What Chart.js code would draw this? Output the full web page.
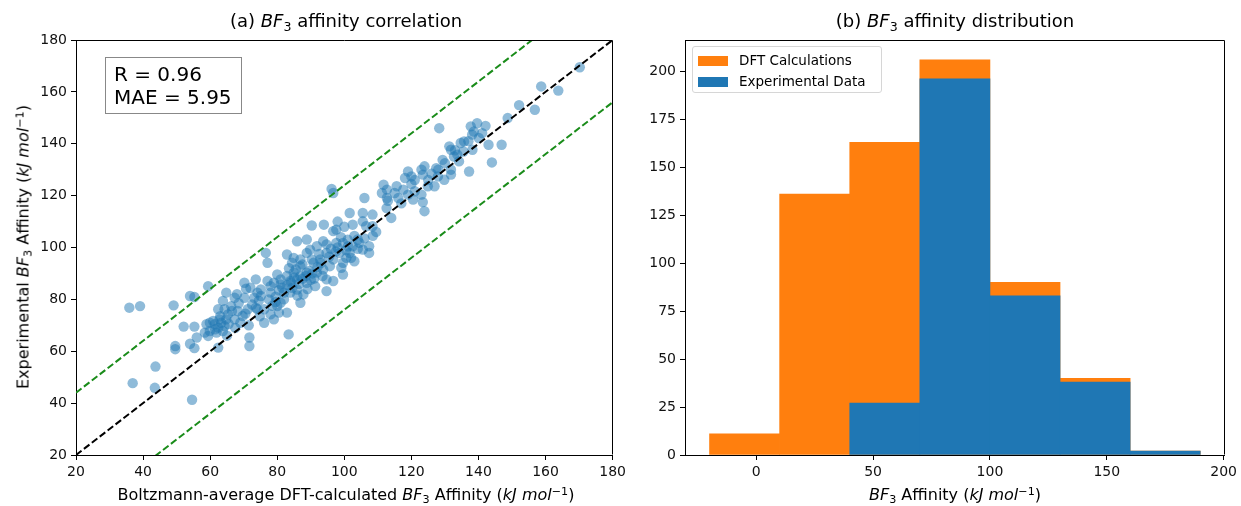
<!DOCTYPE html>
<html>
<head>
<meta charset="utf-8">
<script src="https://cdn.jsdelivr.net/npm/chart.js@4/dist/chart.umd.min.js"></script>
<style>
  body { margin: 0; background: #fff; }
  #wrap { position: relative; width: 1241px; height: 506px; font-family: "DejaVu Sans", sans-serif; color: #000; }
  canvas { position: absolute; top: 0; }
  .txt { position: absolute; white-space: nowrap; transform: translate(-50%, -50%); }
  .sub { font-size: 70%; position: relative; top: 0.3em; }
  .sup { font-size: 70%; position: relative; top: -0.45em; }
  #statBox { position: absolute; left: 105px; top: 57px; width: 137px; height: 57px; border: 1px solid #888;
             font-size: 20px; line-height: 23px; padding: 5px 0 0 8px; box-sizing: border-box; }
  #legend { position: absolute; left: 692px; top: 46px; width: 190px; height: 47px; border: 1px solid #d6d6d6;
            border-radius: 3px; background: rgba(255,255,255,0.8); font-size: 13.5px; box-sizing: border-box; }
  .item { position: absolute; left: 5px; height: 16px; line-height: 16px; }
  .patch { display: inline-block; width: 30px; height: 10px; vertical-align: -1px; margin-right: 11px; }
</style>
</head>
<body>
<div id="wrap">
  <canvas id="corr" width="630" height="506" style="left:0"></canvas>
  <canvas id="dist" width="611" height="506" style="left:630px"></canvas>

  <div class="txt" style="left:346px; top:20px; font-size:18px">(a) <i>BF</i><span class="sub">3</span> affinity correlation</div>
  <div class="txt" style="left:955px; top:20px; font-size:18px">(b) <i>BF</i><span class="sub">3</span> affinity distribution</div>
  <div class="txt" style="left:346px; top:494px; font-size:16px">Boltzmann-average DFT-calculated <i>BF</i><span class="sub">3</span> Affinity (<i>kJ mol</i><span class="sup">−1</span>)</div>
  <div class="txt" style="left:955px; top:494px; font-size:16px"><i>BF</i><span class="sub">3</span> Affinity (<i>kJ mol</i><span class="sup">−1</span>)</div>
  <div class="txt" style="left:23px; top:247px; font-size:16px; transform: translate(-50%, -50%) rotate(-90deg)">Experimental <i>BF</i><span class="sub">3</span> Affinity (<i>kJ mol</i><span class="sup">−1</span>)</div>

  <div id="statBox">R = 0.96<br>MAE = 5.95</div>

  <div id="legend">
    <div class="item" style="top:5px"><span class="patch" style="background:#ff7f0e"></span>DFT Calculations</div>
    <div class="item" style="top:26px"><span class="patch" style="background:#1f77b4"></span>Experimental Data</div>
  </div>
</div>

<script>
// Dados do gráfico de correlação
const dftAffinity = [
  35.9, 39.1, 49.1, 54.0, 55.3, 59.4, 52.1, 55.3, 49.6, 49.6, 54.0, 55.3, 56.0, 43.7, 58.4, 59.9, 60.9,
  61.4, 62.4, 63.3, 64.3, 62.8, 61.9, 63.8, 64.8, 65.3, 64.3, 62.4, 63.8, 64.8, 67.3, 66.3, 68.2, 67.3,
  69.7, 70.2, 70.2, 70.7, 71.2, 71.7, 71.7, 73.1, 73.6, 59.4, 59.9, 58.9, 36.9, 43.5, 54.6, 62.4, 71.5,
  90.3, 93.9, 85.9, 88.8, 96.7, 97.6, 93.7, 94.7, 76.6, 77.1, 82.9, 84.9, 86.9, 88.8, 89.8, 91.8, 90.8,
  94.7, 96.7, 98.6, 99.6, 101.6, 102.5, 104.5, 105.5, 107.4, 107.4, 103.0, 99.1, 99.6, 96.7, 94.7, 91.3,
  88.8, 85.9, 84.9, 82.9, 81.0, 79.0, 78.0, 77.1, 75.1, 73.6, 74.1, 76.1, 78.0, 80.0, 82.0, 83.9, 85.9,
  87.8, 82.9, 81.0, 76.1, 83.4, 101.6, 105.5, 108.4, 102.5, 106.5, 108.4,
  81.0, 83.9, 82.0, 91.8, 93.7, 95.7, 94.7, 88.8, 86.9, 90.3, 92.8, 84.4, 99.6, 86.9, 75.1, 78.0, 74.1,
  79.0, 80.5, 80.0, 97.6, 101.1, 100.6, 86.9, 104.0, 105.5,
  128.3, 137.7, 139.6, 142.1, 138.6, 141.1, 140.1, 138.1, 143.0, 144.0, 131.3, 131.8, 134.7, 135.7, 138.2,
  133.7, 132.7, 129.3, 134.2, 137.2, 131.8, 129.8, 127.4, 123.9, 123.0, 119.0, 120.0, 118.1, 123.4, 124.9,
  126.9, 127.9, 131.8, 111.7, 111.2, 112.7, 115.6, 117.6, 119.0, 120.5, 121.0, 116.1, 112.7, 123.0, 123.9,
  106.0, 112.6, 114.0, 96.2, 96.7, 123.4,
  170.2, 158.7, 163.8, 152.1, 156.8, 148.7, 146.9,
  61.5, 63.0, 65.5, 66.5, 68.5, 69.0, 70.5, 72.5, 74.5, 67.5, 65.0, 68.0, 72.0, 74.8,
  77.5, 79.5, 80.5, 81.5, 83.0, 84.0, 85.0, 86.5, 87.5, 88.5, 89.5, 90.5, 91.0, 92.0, 93.0, 93.5, 85.5,
  83.5, 79.5, 78.5, 84.5, 86.0, 89.0, 90.0, 92.5, 87.5, 95.5, 97.5,
  98.0, 100.5, 99.0, 101.0, 103.0, 104.0, 106.0, 108.5, 96.0, 102.0, 100.0, 98.0, 109.5,
  113.0, 117.0, 120.0, 125.0, 128.0, 130.0, 133.0, 135.5, 137.0, 121.0, 126.0, 115.0
];
const expAffinity = [
  76.8, 77.4, 77.7, 81.3, 80.9, 85.1, 69.5, 69.5, 62.0, 60.8, 62.9, 61.2, 65.3, 54.1, 67.2, 71.0, 71.7,
  70.4, 69.1, 71.0, 69.7, 72.3, 67.2, 67.8, 72.3, 74.2, 76.2, 76.2, 79.4, 82.6, 80.6, 77.4, 75.5, 72.3,
  73.6, 80.6, 86.4, 84.1, 76.2, 65.3, 62.0, 80.6, 76.8, 65.9, 67.8, 70.4, 47.7, 45.9, 41.3, 61.4, 70.0,
  108.5, 108.8, 102.4, 103.1, 106.3, 106.9, 102.4, 101.2, 97.9, 94.1, 97.3, 96.0, 95.4, 97.9, 99.2, 100.5, 94.1,
  97.9, 95.4, 97.9, 101.8, 97.9, 100.5, 101.8, 99.2, 100.5, 97.9, 94.7, 92.2, 89.6, 87.1, 83.2, 85.1,
  86.4, 87.7, 90.3, 89.0, 87.7, 86.4, 85.1, 87.1, 83.8, 87.7, 82.6, 76.2, 74.2, 77.4, 80.0, 82.6, 83.8,
  81.9, 74.9, 78.7, 71.0, 66.5, 113.3, 113.3, 112.7, 108.8, 108.2, 108.2,
  85.8, 87.1, 82.6, 90.3, 91.5, 92.8, 87.7, 90.3, 92.8, 95.4, 95.4, 94.1, 94.1, 78.7, 81.3, 82.6, 76.2,
  72.3, 74.9, 89.6, 101.8, 100.5, 96.0, 89.0, 103.1, 110.1,
  146.0, 146.7, 147.9, 146.9, 144.7, 144.1, 142.2, 143.5, 139.6, 132.8, 139.0, 137.7, 140.3, 140.9, 137.7,
  135.8, 135.1, 133.8, 133.2, 129.3, 130.0, 126.1, 130.6, 131.3, 130.0, 129.3, 127.4, 126.8, 128.1, 123.6,
  123.6, 127.4, 128.1, 124.2, 121.0, 122.3, 123.6, 122.3, 120.4, 118.5, 121.7, 119.1, 119.1, 120.4, 114.0,
  119.1, 115.2, 111.4, 122.6, 121.0, 117.5,
  169.5, 162.1, 160.5, 154.9, 153.1, 149.9, 139.6,
  68.5, 73.5, 70.5, 75.5, 78.5, 71.0, 74.5, 78.0, 79.5, 69.0, 66.0, 82.0, 84.5, 73.5,
  80.0, 81.0, 83.5, 84.5, 85.5, 86.5, 88.5, 86.0, 88.0, 89.0, 91.0, 90.0, 88.0, 92.5, 94.0, 89.0, 91.5,
  92.0, 79.0, 77.5, 84.5, 81.5, 84.0, 87.5, 97.5, 93.5, 96.5, 98.5,
  100.0, 99.0, 104.0, 103.0, 104.5, 99.5, 103.5, 104.5, 99.5, 96.0, 108.0, 110.0, 106.0,
  118.0, 117.0, 124.5, 126.0, 130.0, 132.5, 137.5, 137.0, 141.0, 126.0, 128.5, 121.0
];
const corrRange = [20, 180];
const corrTicks = [20, 40, 60, 80, 100, 120, 140, 160, 180];
const bandOffset = 24;

// Dados do histograma
const binEdges = [-20, 10, 40, 70, 100, 130, 160, 190];
const dftCounts = [11, 136, 163, 206, 90, 40, 2];
const expCounts = [0, 0, 27, 196, 83, 38, 2];
const distXRange = [-30.5, 200.5];
const distYRange = [0, 216.3];
const distXTicks = [0, 50, 100, 150, 200];
const distYTicks = [0, 25, 50, 75, 100, 125, 150, 175, 200];

const FONT = { family: "DejaVu Sans", size: 14 };

// Moldura completa (topo e direita)
const moldura = {
  id: 'moldura',
  afterDraw(chart) {
    const a = chart.chartArea;
    const ctx = chart.ctx;
    ctx.save();
    ctx.strokeStyle = '#000';
    ctx.lineWidth = 1;
    ctx.beginPath();
    ctx.moveTo(Math.round(a.left) + 0.5, Math.round(a.top) + 0.5);
    ctx.lineTo(Math.round(a.right) - 0.5, Math.round(a.top) + 0.5);
    ctx.lineTo(Math.round(a.right) - 0.5, Math.round(a.bottom) - 0.5);
    ctx.stroke();
    ctx.restore();
  }
};

function eixo(range, ticks, fitProp, fitVal) {
  return {
    type: 'linear',
    min: range[0],
    max: range[1],
    offset: false,
    afterBuildTicks: s => { s.ticks = ticks.map(v => ({ value: v })); },
    afterFit: s => { s[fitProp] = fitVal; },
    ticks: { font: FONT, color: '#111', padding: 4, autoSkip: false, maxRotation: 0 },
    grid: { drawOnChartArea: false, offset: false, color: '#000', tickLength: 5 },
    border: { color: '#000', width: 1 }
  };
}

function linha(offset, color) {
  return {
    type: 'line',
    data: corrRange.map(v => ({ x: v, y: v + offset })),
    borderColor: color,
    borderWidth: 2,
    borderDash: [7, 3],
    pointRadius: 0,
    order: 0
  };
}

function criarCorrelacao() {
  const pontos = dftAffinity.map((x, i) => ({ x: x, y: expAffinity[i] }));
  new Chart(document.getElementById('corr'), {
    type: 'scatter',
    data: {
      datasets: [
        linha(0, '#000'),
        linha(bandOffset, '#1a8c1a'),
        linha(-bandOffset, '#1a8c1a'),
        {
          data: pontos,
          backgroundColor: 'rgba(31,119,180,0.5)',
          borderWidth: 0,
          pointRadius: 5.2,
          order: 1
        }
      ]
    },
    options: {
      responsive: false,
      animation: false,
      layout: { padding: { top: 40, right: 14, left: 0, bottom: 0 } },
      plugins: { legend: { display: false }, tooltip: { enabled: false } },
      scales: {
        x: eixo(corrRange, corrTicks, 'height', 51),
        y: eixo(corrRange, corrTicks, 'width', 76)
      }
    },
    plugins: [moldura]
  });
}

function criarDistribuicao() {
  const centro = i => (binEdges[i] + binEdges[i + 1]) / 2;
  const dftPts = dftCounts.map((c, i) => ({ x: centro(i), y: c }));
  const expPts = expCounts.map((c, i) => ({ x: centro(i), y: c })).filter(p => p.y > 0);
  new Chart(document.getElementById('dist'), {
    type: 'bar',
    data: {
      datasets: [
        { label: 'DFT Calculations', data: dftPts, backgroundColor: '#ff7f0e', order: 1 },
        { label: 'Experimental Data', data: expPts, backgroundColor: '#1f77b4', order: 0 }
      ]
    },
    options: {
      responsive: false,
      animation: false,
      grouped: false,
      barPercentage: 1,
      categoryPercentage: 1,
      borderWidth: 0,
      layout: { padding: { top: 40, right: 15, left: 0, bottom: 0 } },
      plugins: { legend: { display: false }, tooltip: { enabled: false } },
      scales: {
        x: eixo(distXRange, distXTicks, 'height', 51),
        y: eixo(distYRange, distYTicks, 'width', 55)
      }
    },
    plugins: [moldura]
  });
}

criarCorrelacao();
criarDistribuicao();
</script>
</body>
</html>
